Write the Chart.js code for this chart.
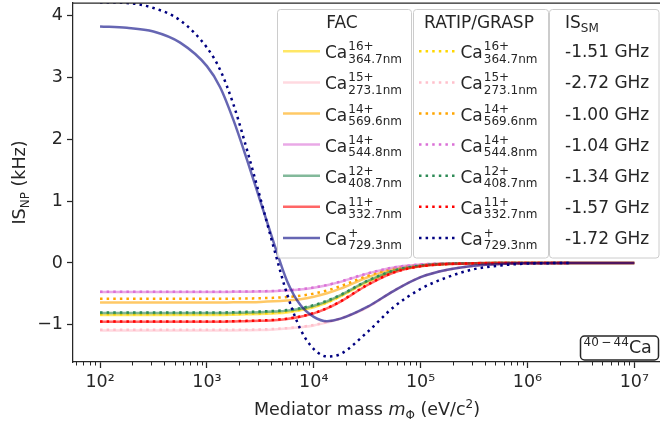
<!DOCTYPE html>
<html>
<head>
<meta charset="utf-8">
<script src="https://cdn.jsdelivr.net/npm/chart.js@4.4.1/dist/chart.umd.min.js"></script>
<style>
  html, body { margin: 0; padding: 0; background: #fff; }
  #wrap { position: relative; width: 660px; height: 427px; }
</style>
</head>
<body>
<div id="wrap"><canvas id="chart" width="660" height="427"></canvas></div>
<script>
// ---- Data ----
// mediator masses in eV/c^2 (log spaced)
const masses = [1e2, 1.78e2, 3.16e2, 5.62e2, 1e3, 1.33e3, 1.78e3, 2.37e3, 3.16e3, 4.22e3, 5.62e3, 7.5e3,
                1e4, 1.33e4, 1.78e4, 3.16e4, 5.62e4, 1e5, 1.78e5, 3.16e5, 5.62e5, 1e6, 2.5e6, 1e7];

// FAC (solid, 24 points) and RATIP/GRASP (dotted, 23 points, stop at 2.5e6)
const facCa16 = [-0.84, -0.84, -0.84, -0.84, -0.84, -0.84, -0.835, -0.83, -0.825, -0.815, -0.80, -0.765, -0.715, -0.64, -0.54, -0.31, -0.13, -0.045, -0.015, -0.005, -0.002, 0, 0, 0];
const ratCa16 = [-0.83, -0.83, -0.83, -0.83, -0.83, -0.83, -0.825, -0.82, -0.815, -0.805, -0.785, -0.755, -0.705, -0.635, -0.535, -0.30, -0.128, -0.045, -0.015, -0.005, -0.002, 0, 0];
const facCa15 = [-1.09, -1.09, -1.09, -1.09, -1.09, -1.09, -1.09, -1.088, -1.085, -1.075, -1.06, -1.04, -1.01, -0.96, -0.90, -0.72, -0.45, -0.23, -0.11, -0.045, -0.015, -0.005, 0, 0];
const ratCa15 = [-1.08, -1.08, -1.08, -1.08, -1.08, -1.08, -1.08, -1.078, -1.075, -1.067, -1.053, -1.033, -1.003, -0.955, -0.895, -0.715, -0.447, -0.228, -0.11, -0.045, -0.015, -0.005, 0];
const facCa14a = [-0.64, -0.64, -0.64, -0.64, -0.64, -0.64, -0.635, -0.635, -0.63, -0.62, -0.605, -0.585, -0.545, -0.49, -0.415, -0.235, -0.10, -0.035, -0.012, -0.004, -0.001, 0, 0, 0];
const ratCa14a = [-0.58, -0.58, -0.58, -0.58, -0.58, -0.58, -0.577, -0.574, -0.57, -0.563, -0.55, -0.53, -0.495, -0.445, -0.375, -0.21, -0.09, -0.032, -0.011, -0.003, -0.001, 0, 0];
const facCa14b = [-0.47, -0.47, -0.47, -0.47, -0.47, -0.47, -0.467, -0.465, -0.462, -0.456, -0.445, -0.428, -0.40, -0.36, -0.305, -0.172, -0.073, -0.026, -0.009, -0.003, -0.001, 0, 0, 0];
const ratCa14b = [-0.465, -0.465, -0.465, -0.465, -0.465, -0.465, -0.462, -0.46, -0.457, -0.451, -0.44, -0.423, -0.396, -0.356, -0.30, -0.17, -0.072, -0.025, -0.009, -0.003, -0.001, 0, 0];
const facCa12 = [-0.81, -0.81, -0.81, -0.81, -0.81, -0.81, -0.805, -0.80, -0.795, -0.785, -0.77, -0.74, -0.69, -0.62, -0.52, -0.295, -0.125, -0.044, -0.015, -0.005, -0.0015, -0.0005, 0, 0];
const ratCa12 = [-0.80, -0.80, -0.80, -0.80, -0.80, -0.80, -0.795, -0.79, -0.785, -0.775, -0.76, -0.73, -0.68, -0.61, -0.515, -0.29, -0.123, -0.043, -0.014, -0.005, -0.0015, -0.0005, 0];
const facCa11 = [-0.95, -0.95, -0.95, -0.95, -0.95, -0.95, -0.945, -0.94, -0.935, -0.925, -0.905, -0.87, -0.815, -0.735, -0.625, -0.36, -0.155, -0.055, -0.018, -0.006, -0.002, -0.0006, 0, 0];
const ratCa11 = [-0.945, -0.945, -0.945, -0.945, -0.945, -0.945, -0.94, -0.935, -0.93, -0.92, -0.90, -0.865, -0.81, -0.73, -0.62, -0.355, -0.152, -0.054, -0.018, -0.006, -0.002, -0.0006, 0];
const facCa1 = [3.82, 3.80, 3.74, 3.56, 3.18, 2.84, 2.30, 1.67, 1.00, 0.33, -0.29, -0.68, -0.87, -0.94, -0.90, -0.71, -0.45, -0.23, -0.11, -0.045, -0.015, -0.005, 0, 0];
const ratCa1 = [4.21, 4.20, 4.12, 3.92, 3.48, 3.12, 2.55, 1.83, 1.05, 0.25, -0.50, -1.07, -1.39, -1.51, -1.47, -1.12, -0.71, -0.42, -0.23, -0.10, -0.04, -0.01, 0];

const ionCharge = ["16+", "15+", "14+", "14+", "12+", "11+", "+"];
const ionLine = ["364.7nm", "273.1nm", "569.6nm", "544.8nm", "408.7nm", "332.7nm", "729.3nm"];
const isSM = ["-1.51 GHz", "-2.72 GHz", "-1.00 GHz", "-1.04 GHz", "-1.34 GHz", "-1.57 GHz", "-1.72 GHz"];
const xTicks = [1e2, 1e3, 1e4, 1e5, 1e6, 1e7];
const yTicks = [-1, 0, 1, 2, 3, 4];

// ---- Style ----
const ionColors = ["#FFD700", "#FFC0CB", "#FFA500", "#DA70D6", "#2E8B57", "#FF0000", "#000080"];
const INK = "#262626";
const FAM = "'DejaVu Sans', sans-serif";
const SUP = { 2: "\u00b2", 3: "\u00b3", 4: "\u2074", 5: "\u2075", 6: "\u2076", 7: "\u2077" };

const facSeries = [facCa16, facCa15, facCa14a, facCa14b, facCa12, facCa11, facCa1];
const ratSeries = [ratCa16, ratCa15, ratCa14a, ratCa14b, ratCa12, ratCa11, ratCa1];

function fade(hex, a) {
  const n = parseInt(hex.slice(1), 16);
  return "rgba(" + (n >> 16) + "," + ((n >> 8) & 255) + "," + (n & 255) + "," + a + ")";
}

function pts(vals) {
  return vals.map(function (v, j) { return { x: masses[j], y: v }; });
}

const datasets = [];
ionColors.forEach(function (c, i) {
  datasets.push({ data: pts(facSeries[i]), borderColor: fade(c, 0.6), borderWidth: 2.5 });
  datasets.push({ data: pts(ratSeries[i]), borderColor: c, borderWidth: 2.5, borderDash: [2.5, 4.1] });
});
datasets.forEach(function (d, k) {
  d.order = datasets.length - k;   // later series on top, like matplotlib
  d.cubicInterpolationMode = "monotone";
  d.pointRadius = 0;
  d.fill = false;
  d.clip = 0;
  d.borderCapStyle = "butt";
});

// ---- Drawing helpers ----
function roundBox(ctx, x, y, w, h, r) {
  ctx.beginPath();
  ctx.moveTo(x + r, y);
  ctx.arcTo(x + w, y, x + w, y + h, r);
  ctx.arcTo(x + w, y + h, x, y + h, r);
  ctx.arcTo(x, y + h, x, y, r);
  ctx.arcTo(x, y, x + w, y, r);
  ctx.closePath();
}

function drawIon(ctx, x, base, sup, sub) {
  ctx.font = "17px " + FAM;
  ctx.fillText("Ca", x, base);
  const w = ctx.measureText("Ca").width + 1;
  ctx.font = "12px " + FAM;
  ctx.fillText(sup, x + w, base - 8);
  ctx.fillText(sub, x + w, base + 4.5);
}

// pieces: [text, size, dy, italic]
function drawPieces(ctx, pieces, x, base) {
  pieces.forEach(function (p) {
    ctx.font = (p[3] ? "italic " : "") + p[1] + "px " + FAM;
    ctx.fillText(p[0], x, base + p[2]);
    x += ctx.measureText(p[0]).width;
  });
}
function piecesWidth(ctx, pieces) {
  let w = 0;
  pieces.forEach(function (p) {
    ctx.font = (p[3] ? "italic " : "") + p[1] + "px " + FAM;
    w += ctx.measureText(p[0]).width;
  });
  return w;
}

const decor = {
  id: "decor",
  afterDraw: function (chart) {
    const ctx = chart.ctx;
    const a = chart.chartArea;
    const xs = chart.scales.x;
    ctx.save();

    // top spine
    ctx.strokeStyle = INK;
    ctx.lineWidth = 1.25;
    ctx.beginPath();
    ctx.moveTo(a.left, a.top);
    ctx.lineTo(a.right, a.top);
    ctx.stroke();

    // minor log ticks
    ctx.lineWidth = 1;
    for (let n = 1; n <= 7; n++) {
      for (let k = 2; k <= 9; k++) {
        const v = k * Math.pow(10, n);
        if (v < xs.min || v > xs.max) continue;
        const px = Math.round(xs.getPixelForValue(v)) + 0.5;
        ctx.beginPath();
        ctx.moveTo(px, a.bottom);
        ctx.lineTo(px, a.bottom + 3.5);
        ctx.stroke();
      }
    }

    // axis titles
    ctx.fillStyle = INK;
    ctx.textBaseline = "alphabetic";
    ctx.textAlign = "left";
    const xl = [["Mediator mass ", 17.5, 0], ["m", 17.5, 0, true], ["\u03a6", 12, 4], [" (eV/c", 17.5, 0], ["2", 12, -7.5], [")", 17.5, 0]];
    drawPieces(ctx, xl, (a.left + 661) / 2 - piecesWidth(ctx, xl) / 2, 415);
    const yl = [["IS", 17.5, 0], ["NP", 12, 4], [" (kHz)", 17.5, 0]];
    ctx.save();
    ctx.translate(24.5, (a.top + a.bottom) / 2);
    ctx.rotate(-Math.PI / 2);
    drawPieces(ctx, yl, -piecesWidth(ctx, yl) / 2, 0);
    ctx.restore();

    // legend frames
    const boxes = [[277, 134], [413, 135], [549, 109.5]];
    boxes.forEach(function (b) {
      roundBox(ctx, b[0] + 0.5, 9.5, b[1], 248.5, 3);
      ctx.fillStyle = "rgba(255,255,255,0.8)";
      ctx.fill();
      ctx.strokeStyle = "#cccccc";
      ctx.lineWidth = 1;
      ctx.stroke();
    });

    ctx.fillStyle = INK;
    ctx.font = "17px " + FAM;
    ctx.textAlign = "center";
    ctx.fillText("FAC", 342, 28.3);
    ctx.fillText("RATIP/GRASP", 479, 28.3);
    ctx.textAlign = "left";
    drawPieces(ctx, [["IS", 17, 0], ["SM", 12, 3.5]], 565, 28.3);

    for (let i = 0; i < ionColors.length; i++) {
      const base = 58.3 + i * 31.1;
      const ly = base - 7;
      ctx.lineWidth = 2.5;
      ctx.lineCap = "butt";
      ctx.setLineDash([]);
      ctx.strokeStyle = fade(ionColors[i], 0.6);
      ctx.beginPath(); ctx.moveTo(283, ly); ctx.lineTo(320, ly); ctx.stroke();
      ctx.setLineDash([2.5, 4.1]);
      ctx.strokeStyle = ionColors[i];
      ctx.beginPath(); ctx.moveTo(419, ly); ctx.lineTo(456.5, ly); ctx.stroke();
      ctx.setLineDash([]);
      ctx.fillStyle = INK;
      drawIon(ctx, 325, base, ionCharge[i], ionLine[i]);
      drawIon(ctx, 460.5, base, ionCharge[i], ionLine[i]);
      ctx.font = "17px " + FAM;
      ctx.fillText(isSM[i], 565, base - 1);
    }

    // isotope tag
    roundBox(ctx, 580.5, 336, 78, 24, 4);
    ctx.fillStyle = "#ffffff";
    ctx.fill();
    ctx.strokeStyle = INK;
    ctx.lineWidth = 1.5;
    ctx.stroke();
    ctx.fillStyle = INK;
    drawPieces(ctx, [["40\u2009\u2212\u200944", 12, -7], ["Ca", 17.5, 0]], 583.5, 353.3);

    ctx.restore();
  }
};

new Chart(document.getElementById("chart"), {
  type: "line",
  data: { datasets: datasets },
  options: {
    responsive: false,
    animation: false,
    devicePixelRatio: 1,
    layout: { padding: { top: 3, right: 0, bottom: 0, left: 0 } },
    plugins: { legend: { display: false }, tooltip: { enabled: false } },
    scales: {
      x: {
        type: "logarithmic",
        min: 55.85,
        max: 1.738e7,
        afterBuildTicks: function (s) { s.ticks = xTicks.map(function (v) { return { value: v }; }); },
        afterFit: function (s) { s.height = 65; s.paddingLeft = 0; s.paddingRight = 0; },
        grid: { drawOnChartArea: false, tickLength: 6, tickWidth: 1.25, tickColor: INK },
        border: { color: INK, width: 1.25 },
        ticks: {
          color: INK, font: { family: FAM, size: 17.5 }, padding: 4, maxRotation: 0, autoSkip: false,
          callback: function (v) { return "10" + SUP[Math.round(Math.log10(v))]; }
        }
      },
      y: {
        type: "linear",
        min: -1.6,
        max: 4.2,
        afterBuildTicks: function (s) { s.ticks = yTicks.map(function (v) { return { value: v }; }); },
        afterFit: function (s) { s.width = 73; s.paddingTop = 0; s.paddingBottom = 0; },
        grid: { drawOnChartArea: false, tickLength: 6, tickWidth: 1.25, tickColor: INK },
        border: { color: INK, width: 1.25 },
        ticks: {
          color: INK, font: { family: FAM, size: 17.5 }, padding: 4,
          callback: function (v) { return v < 0 ? "\u2212" + Math.abs(v) : String(v); }
        }
      }
    }
  },
  plugins: [decor]
});
</script>
</body>
</html>
